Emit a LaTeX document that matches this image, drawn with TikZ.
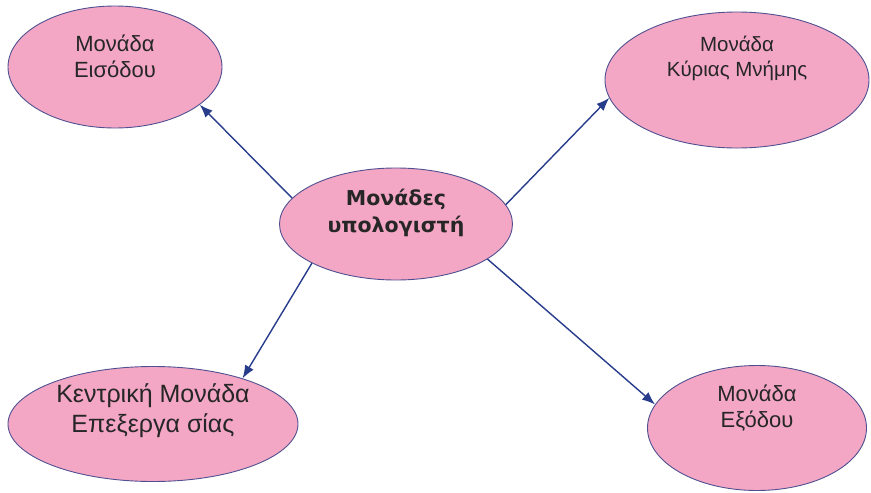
\documentclass[tikz,border=0pt]{standalone}
\usepackage{fontspec}
\setmainfont{Liberation Sans}
\newfontfamily\boldfam{DejaVu Sans}
\usetikzlibrary{shapes.geometric,arrows.meta}
\definecolor{pinkfill}{RGB}{243,167,196}
\definecolor{rimcol}{RGB}{80,80,145}
\definecolor{arrcol}{RGB}{40,60,140}
\tikzset{
  unit/.style={ellipse,draw=rimcol,line width=0.9pt,fill=pinkfill,inner sep=0pt,align=center,text=black!85},
  arr/.style={draw=arrcol,line width=1.4pt,-{Latex[length=13pt,width=10pt]}}
}
\begin{document}
\begin{tikzpicture}[x=1pt,y=-1pt]
\useasboundingbox (0,0) rectangle (871,493);
\node[unit,minimum width=214pt,minimum height=122pt,text depth=22pt,font=\fontsize{22}{26}\selectfont] (tl) at (115,67) {Μονάδα\\Εισόδου};
\node[unit,minimum width=264pt,minimum height=136pt,text depth=48pt,font=\fontsize{20.5}{25}\selectfont] (tr) at (737,80) {Μονάδα\\Κύριας Μνήμης};
\node[unit,minimum width=233pt,minimum height=112pt,text depth=27pt,font=\boldfam\bfseries\fontsize{20.5}{27}\selectfont] (c) at (396,224) {Μονάδες\\υπολογιστή};
\node[unit,minimum width=290pt,minimum height=115pt,text depth=31pt,font=\fontsize{25}{30}\selectfont] (bl) at (153,424) {Κεντρική Μονάδα\\Επεξεργα σίας};
\node[unit,minimum width=219pt,minimum height=125pt,text depth=44pt,font=\fontsize{22}{26}\selectfont] (br) at (757,428) {Μονάδα\\Εξόδου};
\draw[arr] (c.166.5) -- (tl.-24.7);
\draw[arr] (c.10.7) -- (tr.188.2);
\draw[arr] (c.205.6) -- (bl.27);
\draw[arr] (c.-21.9) -- (br.167.5);
\end{tikzpicture}
\end{document}
